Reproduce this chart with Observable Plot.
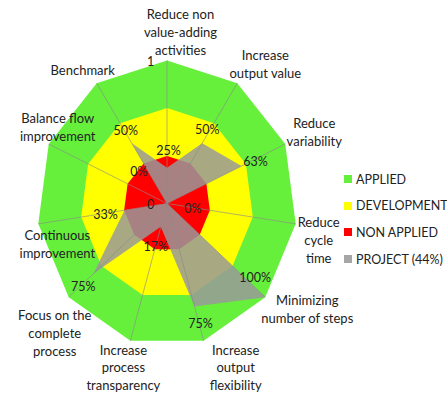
<!DOCTYPE html>
<html><head><meta charset="utf-8">
<script src="https://cdn.jsdelivr.net/npm/d3@7"></script>
<script src="https://cdn.jsdelivr.net/npm/@observablehq/plot@0.6"></script>
<style>
body{margin:0;background:#fff;}
#wrap{position:relative;width:447px;height:395px;font-family:Lato,sans-serif;}
#legend{position:absolute;left:344px;top:166px;font-size:12.5px;color:#222;font-family:Lato,sans-serif;}
.row{height:26.6px;display:flex;align-items:center;white-space:nowrap;}
.sw{width:8px;height:8px;margin-right:4px;flex:none}
</style></head><body><div id="wrap"></div>
<script>
// ---- data ----
const categories = [
  "Reduce non\nvalue-adding\nactivities",
  "Increase\noutput value",
  "Reduce\nvariability",
  "Reduce\ncycle\ntime",
  "Minimizing\nnumber of steps",
  "Increase\noutput\nflexibility",
  "Increase\nprocess\ntransparency",
  "Focus on the\ncomplete\nprocess",
  "Continuous\nimprovement",
  "Balance flow\nimprovement",
  "Benchmark"
];
const applied     = [1, 1, 1, 1, 1, 1, 1, 1, 1, 1, 1];
const development = [0.667, 0.667, 0.667, 0.667, 0.667, 0.667, 0.667, 0.667, 0.667, 0.667, 0.667];
const nonApplied  = [0.333, 0.333, 0.333, 0.333, 0.333, 0.333, 0.333, 0.333, 0.333, 0.333, 0.333];
const project     = [0.25, 0.50, 0.63, 0, 1.00, 0.75, 0.17, 0.75, 0.33, 0, 0.50];
const tickValues  = [0, 1];
const tickLabels  = ["0", "1"];
const seriesNames = ["APPLIED", "DEVELOPMENT", "NON APPLIED", "PROJECT (44%)"];

// ---- layout (label nudges in px, styles) ----
const catNudge = [[13.5,-29],[28,-20],[29,-13],[23,15.5],[42,11.5],[32,26],[-7,26],[-14,35],[19,19],[9,-17.5],[-14,-14]];
const valNudge = [[1.5,-17],[5,-13],[14,-4],[26,5],[-10,-19],[6,18],[-5,20],[-10,13],[-19,5],[-28,-32],[-6,-12]];
const colors = ["#66f03c", "#ffff00", "#ff0000", "#999999"];

const n = categories.length;
const ang = i => i * 2 * Math.PI / n;
const pts = (vals) => vals.map((v, i) => ({i, v, x: v * Math.sin(ang(i)), y: v * Math.cos(ang(i))}));

const axesData = categories.map((c, i) => ({c, i, x: Math.sin(ang(i)), y: Math.cos(ang(i))}));
const projPts = pts(project);
const ticks = tickValues.map((v, k) => ({v, t: tickLabels[k]}));

const txt = {fontFamily: "Lato, sans-serif", fill: "#222"};

const plot = Plot.plot({
  width: 447, height: 395,
  margin: 0,
  x: {domain: [-1, 1], range: [36.5, 296.5], axis: null},
  y: {domain: [-1, 1], range: [346, 60], axis: null},
  style: {background: "transparent", overflow: "visible"},
  marks: [
    Plot.line(pts(applied), {x: "x", y: "y", fill: colors[0], stroke: "none", curve: "linear-closed"}),
    Plot.line(pts(development), {x: "x", y: "y", fill: colors[1], stroke: "none", curve: "linear-closed"}),
    Plot.line(pts(nonApplied), {x: "x", y: "y", fill: colors[2], stroke: "none", curve: "linear-closed"}),
    Plot.line(projPts, {x: "x", y: "y", fill: colors[3], fillOpacity: 0.85, stroke: "none", curve: "linear-closed"}),
    Plot.link(axesData, {x1: 0, y1: 0, x2: "x", y2: "y", stroke: "#8a8a8a", strokeWidth: 0.8, strokeOpacity: 0.8}),
    ...axesData.map((d, i) => Plot.text([d], {x: "x", y: "y", text: "c", dx: catNudge[i][0], dy: catNudge[i][1],
      fontSize: 13, lineHeight: 1.38, textAnchor: "middle", ...txt})),
    ...projPts.map((d, i) => Plot.text([d], {x: "x", y: "y", text: dd => Math.round(dd.v * 100) + "%",
      dx: valNudge[i][0], dy: valNudge[i][1], fontSize: 12.5, textAnchor: "middle", ...txt})),
    Plot.text(ticks, {x: 0, y: "v", text: "t", dx: -16.5, dy: 1, fontSize: 12.5, textAnchor: "middle", ...txt})
  ]
});

const wrap = document.getElementById("wrap");
wrap.appendChild(plot);
const legend = document.createElement("div");
legend.id = "legend";
seriesNames.forEach((s, k) => {
  const row = document.createElement("div");
  row.className = "row";
  const sw = document.createElement("span");
  sw.className = "sw";
  sw.style.background = k === 3 ? "#a6a6a6" : colors[k];
  const t = document.createElement("span");
  t.textContent = s;
  row.appendChild(sw); row.appendChild(t);
  legend.appendChild(row);
});
wrap.appendChild(legend);
</script></body></html>
